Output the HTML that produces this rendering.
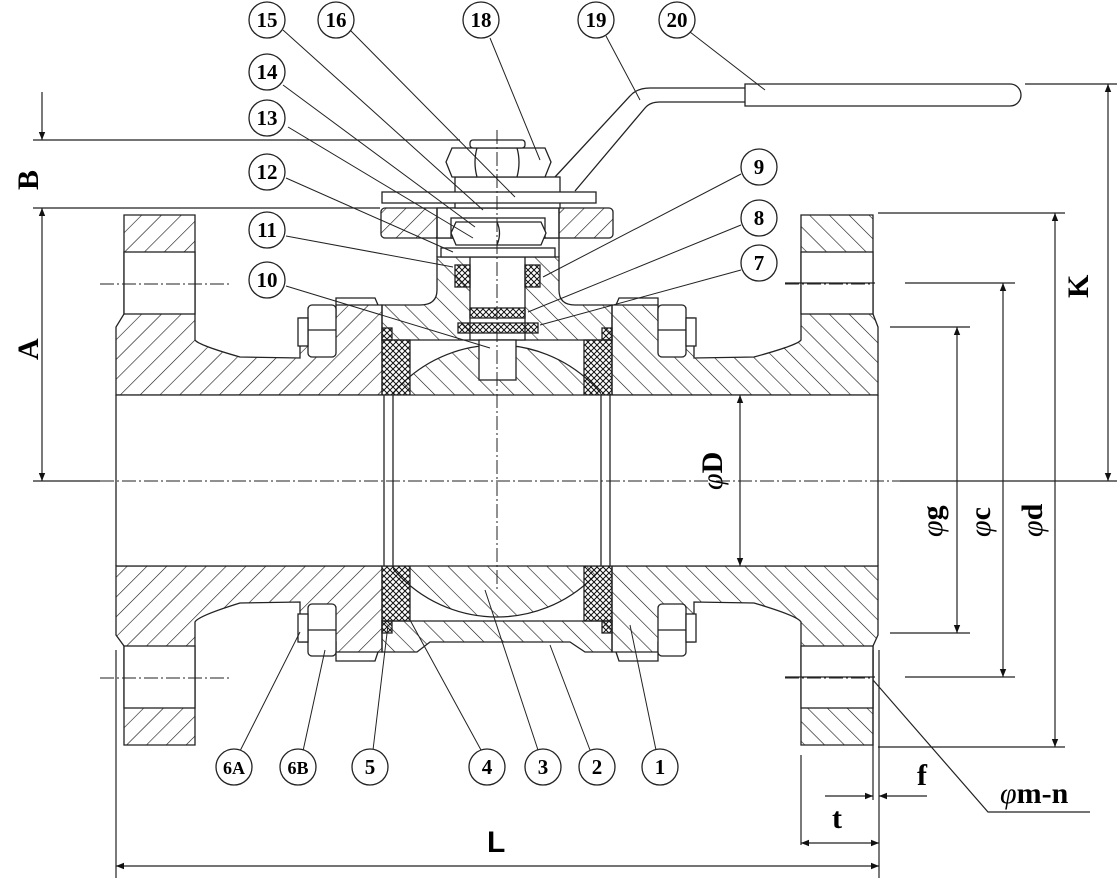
<!DOCTYPE html>
<html><head><meta charset="utf-8"><style>
html,body{margin:0;padding:0;background:#fff}
svg{display:block}
.n{font-family:"Liberation Serif",serif;font-weight:bold;font-size:21px;text-anchor:middle}
.d{font-family:"Liberation Serif",serif;font-weight:bold;font-size:30px}
</style></head><body>
<svg width="1117" height="878" viewBox="0 0 1117 878" xmlns="http://www.w3.org/2000/svg">
<defs>
<pattern id="hb" patternUnits="userSpaceOnUse" width="14" height="14" patternTransform="rotate(45)"><line x1="0" y1="0" x2="0" y2="14" stroke="#111" stroke-width="1.2"/></pattern>
<pattern id="hf" patternUnits="userSpaceOnUse" width="14" height="14" patternTransform="rotate(-45)"><line x1="0" y1="0" x2="0" y2="14" stroke="#111" stroke-width="1.2"/></pattern>
<pattern id="cx" patternUnits="userSpaceOnUse" width="6" height="6"><path d="M0,0L6,6M6,0L0,6" stroke="#111" stroke-width="1"/></pattern>
<marker id="ar" viewBox="0 0 10 10" refX="10" refY="5" markerWidth="14" markerHeight="8" orient="auto-start-reverse" markerUnits="userSpaceOnUse"><path d="M0,1L10,5L0,9Z" fill="#111"/></marker>
<clipPath id="bc"><rect x="393" y="340" width="208" height="280"/></clipPath>
</defs>
<g stroke="#222" stroke-width="1.3" fill="none">
<path d="M116,395 L116,327 L124,314 L124,215 L195,215 L195,340 Q198,345 240,357 L300,358 L300,318 L336,318 L336,305 L382,305 L382,395 Z" fill="url(#hb)"/>
<path d="M116,566 L116,635 L124,646 L124,745 L195,745 L195,622 Q198,616 240,603 L300,602 L300,642 L336,642 L336,652 L382,652 L382,566 Z" fill="url(#hb)"/>
<rect x="124" y="252" width="71" height="62" fill="#fff"/>
<rect x="124" y="646" width="71" height="62" fill="#fff"/>
<path d="M878,395 L878,327 L873,314 L873,215 L801,215 L801,340 Q798,345 754,357 L694,358 L694,318 L658,318 L658,305 L612,305 L612,395 Z" fill="url(#hf)"/>
<path d="M878,566 L878,635 L873,646 L873,745 L801,745 L801,622 Q798,616 754,603 L694,602 L694,642 L658,642 L658,652 L612,652 L612,566 Z" fill="url(#hf)"/>
<rect x="801" y="252" width="72" height="62" fill="#fff"/>
<rect x="801" y="646" width="72" height="62" fill="#fff"/>
<path d="M336,305 L336,298 L375,298 L378,305"/><path d="M336,652 L336,661 L375,661 L378,652"/>
<path d="M658,305 L658,298 L619,298 L616,305"/><path d="M658,652 L658,661 L619,661 L616,652"/>
<g fill="#fff"><rect x="308" y="305" width="28" height="52" rx="4"/><rect x="298" y="318" width="10" height="28"/>
<rect x="308" y="604" width="28" height="52" rx="4"/><rect x="298" y="614" width="10" height="28"/>
<rect x="658" y="305" width="28" height="52" rx="4"/><rect x="686" y="318" width="10" height="28"/>
<rect x="658" y="604" width="28" height="52" rx="4"/><rect x="686" y="614" width="10" height="28"/></g>
<path d="M308,330H336M308,630H336M658,330H686M658,630H686"/>
<path d="M382,340 L382,305 L420,305 Q437,305 437,290 L437,257 L559,257 L559,290 Q559,305 575,305 L612,305 L612,340 Z" fill="url(#hf)"/>
<rect x="470" y="257" width="55" height="83" fill="#fff"/>
<g clip-path="url(#bc)"><circle cx="497" cy="481" r="136" fill="url(#hf)"/></g>
<rect x="479" y="340" width="37" height="40" fill="#fff"/>
<path d="M382,621 L612,621 L612,652 L585,652 L570,642 L430,642 L417,652 L382,652 Z" fill="url(#hf)"/>
<rect x="382" y="340" width="28" height="55" fill="url(#cx)"/><rect x="584" y="340" width="28" height="55" fill="url(#cx)"/>
<rect x="382" y="566" width="28" height="55" fill="url(#cx)"/><rect x="584" y="566" width="28" height="55" fill="url(#cx)"/>
<rect x="382" y="328" width="10" height="12" fill="url(#cx)"/><rect x="602" y="328" width="10" height="12" fill="url(#cx)"/>
<rect x="382" y="621" width="10" height="12" fill="url(#cx)"/><rect x="602" y="621" width="10" height="12" fill="url(#cx)"/>
<rect x="116" y="395" width="762" height="171" fill="#fff" stroke="none"/>
<path d="M116,395H878M116,566H878M116,395V566M878,395V566M384,395V566M393,395V566M601,395V566M610,395V566"/>
<rect x="455" y="265" width="15" height="22" fill="url(#cx)"/><rect x="525" y="265" width="15" height="22" fill="url(#cx)"/>
<rect x="470" y="308" width="55" height="10" fill="url(#cx)"/>
<rect x="458" y="323" width="80" height="10" fill="url(#cx)"/>
<rect x="381" y="208" width="232" height="30" rx="4" fill="url(#hb)"/>
<rect x="437" y="208" width="122" height="30" fill="#fff"/>
<path d="M437,208V257M559,208V257"/>
<rect x="451" y="218" width="94" height="20" fill="#fff"/>
<path d="M456,222 L541,222 L546,233 L541,245 L456,245 L451,233 Z" fill="#fff"/>
<path d="M497,222 Q502,233 497,245"/>
<rect x="441" y="248" width="114" height="9" fill="#fff"/>
<rect x="455" y="177" width="105" height="31" fill="#fff"/>
<rect x="382" y="192" width="214" height="11" fill="#fff"/>
<path d="M452,148 L545,148 L551,162 L545,177 L452,177 L446,162 Z" fill="#fff"/>
<path d="M477,148 Q473,162 477,177 M517,148 Q521,162 517,177"/>
<rect x="470" y="140" width="55" height="8" rx="3" fill="#fff"/>
<path d="M555,177 L630,96 Q637,88 650,88 L745,88 M575,191 L645,108 Q650,102 660,102 L745,102"/>
<path d="M745,84 L1010,84 A11,11 0 0 1 1010,106 L745,106 Z" fill="#fff"/>
</g>
<g stroke="#222" stroke-width="1" fill="none" stroke-dasharray="14,3,2,3">
<path d="M497,130V590"/><path d="M100,284H230M100,678H230M785,284H870M785,678H870"/>
<path d="M100,481H900"/>
</g>
<g stroke="#222" stroke-width="1.2" fill="none">
<path d="M33,140H460M33,208H380M33,481H100M900,481H1117"/>
<path d="M1025,84H1117M878,213H1065M1015,283H905M785,283H875M890,327H970M890,633H970M905,677H1015M785,677H875M878,747H1065"/>
<path d="M42,92V140" marker-end="url(#ar)"/>
<path d="M42,208V481" marker-start="url(#ar)" marker-end="url(#ar)"/>
<path d="M1108,84V481" marker-start="url(#ar)" marker-end="url(#ar)"/>
<path d="M1055,213V747" marker-start="url(#ar)" marker-end="url(#ar)"/>
<path d="M1003,283V677" marker-start="url(#ar)" marker-end="url(#ar)"/>
<path d="M957,327V633" marker-start="url(#ar)" marker-end="url(#ar)"/>
<path d="M740,395V566" marker-start="url(#ar)" marker-end="url(#ar)"/>
<path d="M116,650V878M801,755V845M873,650V800M879,650V878"/>
<path d="M116,866H879" marker-start="url(#ar)" marker-end="url(#ar)"/>
<path d="M801,843H879" marker-start="url(#ar)" marker-end="url(#ar)"/>
<path d="M825,796H873" marker-end="url(#ar)"/><path d="M927,796H879" marker-end="url(#ar)"/>
<path d="M873,680L988,812H1090"/>
</g>
<g stroke="#222" stroke-width="1" fill="none">
<path d="M283,30L483,210M350,30L515,197M490,38L540,160M606,36L640,100M690,32L765,90M283,85L475,227M288,127L473,238M286,178L453,252M286,236L453,267M286,286L490,348"/>
<path d="M741,174L543,277M741,225L528,312M741,270L540,325"/>
<path d="M240,751L300,632M303,751L325,650M373,750L388,625M481,750L410,620M538,750L485,590M590,750L550,645M656,750L630,625"/>
</g>
<g stroke="#222" stroke-width="1.3" fill="#fff">
<circle cx="267" cy="20" r="18"/><circle cx="336" cy="20" r="18"/><circle cx="481" cy="20" r="18"/><circle cx="596" cy="20" r="18"/><circle cx="677" cy="20" r="18"/>
<circle cx="267" cy="72" r="18"/><circle cx="267" cy="118" r="18"/><circle cx="267" cy="172" r="18"/><circle cx="267" cy="230" r="18"/><circle cx="267" cy="280" r="18"/>
<circle cx="759" cy="167" r="18"/><circle cx="759" cy="218" r="18"/><circle cx="759" cy="263" r="18"/>
<circle cx="234" cy="767" r="18"/><circle cx="298" cy="767" r="18"/><circle cx="370" cy="767" r="18"/><circle cx="487" cy="767" r="18"/><circle cx="543" cy="767" r="18"/><circle cx="597" cy="767" r="18"/><circle cx="660" cy="767" r="18"/>
</g>
<g class="n">
<text x="267" y="27">15</text><text x="336" y="27">16</text><text x="481" y="27">18</text><text x="596" y="27">19</text><text x="677" y="27">20</text>
<text x="267" y="79">14</text><text x="267" y="125">13</text><text x="267" y="179">12</text><text x="267" y="237">11</text><text x="267" y="287">10</text>
<text x="759" y="174">9</text><text x="759" y="225">8</text><text x="759" y="270">7</text>
<text x="234" y="774" font-size="18">6A</text><text x="298" y="774" font-size="18">6B</text><text x="370" y="774">5</text><text x="487" y="774">4</text><text x="543" y="774">3</text><text x="597" y="774">2</text><text x="660" y="774">1</text>
</g>
<g class="d">
<text transform="translate(38,190) rotate(-90)">B</text>
<text transform="translate(38,360) rotate(-90)">A</text>
<text transform="translate(1088,298) rotate(-90)">K</text>
<text transform="translate(722,490) rotate(-90)"><tspan font-style="italic" font-weight="normal">φ</tspan>D</text>
<text transform="translate(942,537) rotate(-90)"><tspan font-style="italic" font-weight="normal">φ</tspan>g</text>
<text transform="translate(990,537) rotate(-90)"><tspan font-style="italic" font-weight="normal">φ</tspan>c</text>
<text transform="translate(1042,537) rotate(-90)"><tspan font-style="italic" font-weight="normal">φ</tspan>d</text>
<text x="917" y="785">f</text>
<text x="832" y="828">t</text>
<text x="487" y="852" font-family="Liberation Sans,sans-serif">L</text>
<text x="1000" y="803"><tspan font-style="italic" font-weight="normal">φ</tspan>m-n</text>
</g>
</svg>
</body></html>
